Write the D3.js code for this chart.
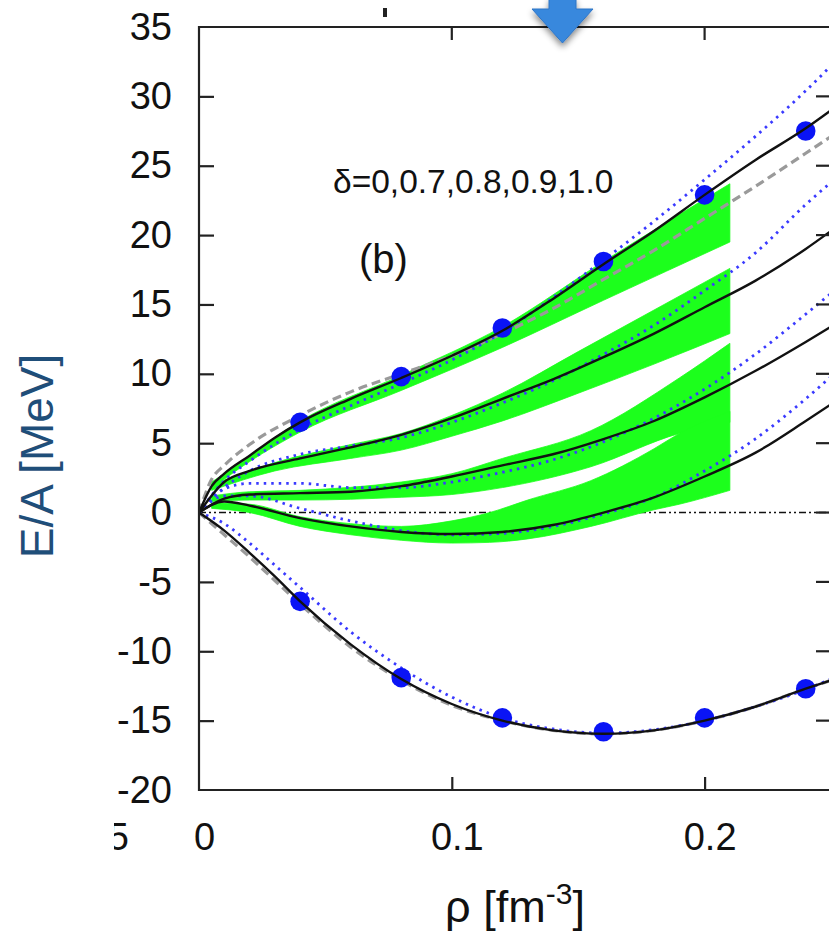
<!DOCTYPE html>
<html>
<head>
<meta charset="utf-8">
<script src="https://cdn.jsdelivr.net/npm/d3@7"></script>
<style>
  body { margin: 0; background: #fff; }
  svg { display: block; font-family: "Liberation Sans", Arial, sans-serif; }
</style>
</head>
<body>
<svg id="chart" width="829" height="937"></svg>
<script>
// tick values
const yTicks = [-20, -15, -10, -5, 0, 5, 10, 15, 20, 25, 30, 35];
const xTicks = [0, 0.1, 0.2];

// blue points (delta = 0 and delta = 1)
const dotsD0 = [[0.04,-6.4],[0.08,-11.9],[0.12,-14.8],[0.16,-15.8],[0.20,-14.8],[0.24,-12.7]];
const dotsD1 = [[0.04,6.5],[0.08,9.8],[0.12,13.3],[0.16,18.1],[0.20,22.9],[0.24,27.5]];

// black solid curves
const blackD0 = [[0,0],[0.01,-1.3],[0.02,-2.9],[0.03,-4.6],[0.04,-6.4],[0.06,-9.5],[0.08,-12.0],[0.10,-13.8],[0.12,-15.0],[0.14,-15.7],[0.16,-15.95],[0.18,-15.7],[0.20,-15.0],[0.22,-14.0],[0.24,-12.7],[0.25,-12.1]];
const blackD07 = [[0,0],[0.01,0.8],[0.02,0.5],[0.04,-0.4],[0.06,-1.0],[0.08,-1.4],[0.10,-1.55],[0.12,-1.4],[0.14,-0.9],[0.16,0.0],[0.18,1.1],[0.20,2.6],[0.22,4.3],[0.24,6.6],[0.25,7.8]];
const blackD08 = [[0,0],[0.01,1.0],[0.02,1.3],[0.04,1.4],[0.06,1.5],[0.08,1.9],[0.10,2.6],[0.12,3.4],[0.14,4.2],[0.16,5.3],[0.18,6.6],[0.20,8.3],[0.22,10.2],[0.24,12.3],[0.25,13.4]];
const blackD09 = [[0,0],[0.01,2.2],[0.02,3.0],[0.04,3.9],[0.06,4.7],[0.08,5.6],[0.10,6.8],[0.12,8.2],[0.14,9.6],[0.16,11.2],[0.18,12.9],[0.20,14.8],[0.22,16.7],[0.24,19.0],[0.25,20.3]];
const blackD10 = [[0,0],[0.005,1.9],[0.01,2.8],[0.02,4.1],[0.03,5.4],[0.04,6.5],[0.06,8.2],[0.08,9.7],[0.10,11.3],[0.12,13.1],[0.14,15.4],[0.16,17.9],[0.18,20.3],[0.20,22.9],[0.22,25.4],[0.24,27.7],[0.25,29.0]];

// blue dotted curves
const blueD0 = [[0,0],[0.01,-0.8],[0.02,-2.2],[0.03,-3.8],[0.04,-5.4],[0.06,-8.6],[0.08,-11.2],[0.10,-13.3],[0.12,-14.8],[0.14,-15.6],[0.16,-15.9],[0.18,-15.65],[0.20,-15.0],[0.22,-14.0],[0.24,-12.75],[0.25,-12.0]];
const blueD07 = [[0,0],[0.01,1.2],[0.02,1.2],[0.04,0.3],[0.06,-0.6],[0.08,-1.3],[0.10,-1.6],[0.12,-1.5],[0.14,-1.0],[0.16,-0.1],[0.18,1.1],[0.20,3.0],[0.22,5.3],[0.24,8.2],[0.25,9.8]];
const blueD08 = [[0,0],[0.01,1.7],[0.02,2.1],[0.04,2.1],[0.06,1.8],[0.08,1.8],[0.10,2.2],[0.12,2.9],[0.14,3.8],[0.16,5.1],[0.18,6.8],[0.20,8.9],[0.22,11.4],[0.24,14.3],[0.25,15.8]];
const blueD09 = [[0,0],[0.01,1.8],[0.02,3.0],[0.04,4.2],[0.06,4.8],[0.08,5.4],[0.10,6.5],[0.12,7.9],[0.14,9.5],[0.16,11.4],[0.18,13.5],[0.20,16.0],[0.22,18.7],[0.24,22.2],[0.25,23.8]];
const blueD10 = [[0,0],[0.01,2.3],[0.02,3.7],[0.04,6.0],[0.06,7.7],[0.08,9.3],[0.10,11.0],[0.12,13.0],[0.14,15.5],[0.16,18.2],[0.18,21.0],[0.20,24.0],[0.22,27.1],[0.24,30.4],[0.25,32.2]];

// gray dashed curves
const grayD0 = [[0,0],[0.01,-1.6],[0.02,-3.2],[0.03,-4.9],[0.04,-6.6],[0.06,-9.7],[0.08,-12.1],[0.10,-13.9],[0.12,-15.0],[0.14,-15.7],[0.16,-15.95],[0.18,-15.7],[0.20,-15.0],[0.22,-14.0],[0.24,-12.7],[0.25,-12.1]];
const grayD10 = [[0,0],[0.005,2.4],[0.01,3.4],[0.02,4.9],[0.04,7.0],[0.06,8.7],[0.08,10.0],[0.10,11.3],[0.12,12.9],[0.14,14.7],[0.16,16.8],[0.18,18.9],[0.20,21.2],[0.22,23.5],[0.24,25.9],[0.25,27.1]];

// green uncertainty bands: [rho, lower, upper]
const bandD07 = [[0.005,0.3,0.7],[0.02,0.0,0.6],[0.04,-1.0,-0.3],[0.06,-1.6,-0.8],[0.08,-2.0,-1.0],[0.10,-2.2,-0.6],[0.115,-2.15,0.0],[0.13,-1.9,0.9],[0.155,-1.0,2.3],[0.18,0.2,4.6],[0.19,0.6,5.7],[0.21,1.6,7.3]];
const bandD08 = [[0.005,0.8,1.2],[0.02,0.9,1.5],[0.04,0.9,1.6],[0.08,1.1,2.2],[0.10,1.3,2.8],[0.12,1.8,3.9],[0.155,3.3,5.9],[0.19,5.7,9.7],[0.21,6.5,12.2]];
const bandD09 = [[0.005,1.6,2.0],[0.03,3.0,3.6],[0.06,3.9,4.9],[0.08,4.5,5.7],[0.10,5.5,7.0],[0.12,6.6,8.6],[0.15,8.6,11.6],[0.18,10.7,14.6],[0.21,12.9,17.6]];
const bandD10 = [[0.005,1.7,2.2],[0.01,2.4,2.8],[0.04,5.8,6.6],[0.08,8.8,9.9],[0.12,11.9,13.4],[0.16,15.3,18.1],[0.21,19.5,23.7]];

const svg = d3.select('#chart');
const x = d3.scaleLinear().domain([0, 0.25]).range([199, 831]);
const y = d3.scaleLinear().domain([-20, 35]).range([790, 27]);

const defs = svg.append('defs');
defs.append('clipPath').attr('id','plot')
	.append('rect').attr('x',199).attr('y',27).attr('width',632).attr('height',763);
defs.append('clipPath').attr('id','leftcut')
	.append('rect').attr('x',114).attr('y',800).attr('width',40).attr('height',80);
const shadow = defs.append('filter').attr('id','shadow')
	.attr('x','-50%').attr('y','-50%').attr('width','200%').attr('height','200%');
shadow.append('feDropShadow').attr('dx',0).attr('dy',4).attr('stdDeviation',3)
	.attr('flood-color','#000').attr('flood-opacity',0.45);

const plot = svg.append('g').attr('clip-path','url(#plot)');

const line = d3.line().x(d=>x(d[0])).y(d=>y(d[1])).curve(d3.curveMonotoneX);
const area = d3.area().x(d=>x(d[0])).y0(d=>y(d[1])).y1(d=>y(d[2])).curve(d3.curveMonotoneX);

//zero line, dash-dot
plot.append('line')
	.attr('x1',x(0)).attr('x2',x(0.25))
	.attr('y1',y(0)).attr('y2',y(0))
	.style('stroke','#111').style('stroke-width',1.6)
	.style('stroke-dasharray','7,3,2,3,2,3');

plot.selectAll('.band')
	.data([bandD10, bandD09, bandD08, bandD07])
	.enter()
	.append('path').attr('class','band')
	.attr('d',area)
	.style('fill','#1cff1c')
	.style('stroke','#1cff1c').style('stroke-width',0.8);

plot.selectAll('.gray')
	.data([grayD0, grayD10])
	.enter()
	.append('path').attr('class','gray')
	.attr('d',line)
	.style('fill','none')
	.style('stroke','#9a9a9a').style('stroke-width',3.2)
	.style('stroke-dasharray','9,5');

plot.selectAll('.blue')
	.data([blueD0, blueD07, blueD08, blueD09, blueD10])
	.enter()
	.append('path').attr('class','blue')
	.attr('d',line)
	.style('fill','none')
	.style('stroke','#3a3aff').style('stroke-width',2.8)
	.style('stroke-dasharray','2.5,5');

plot.selectAll('.dot')
	.data(dotsD0.concat(dotsD1))
	.enter()
	.append('circle').attr('class','dot')
	.attr('cx',d=>x(d[0])).attr('cy',d=>y(d[1]))
	.attr('r',9.8)
	.style('fill','#0a14f5');

plot.selectAll('.black')
	.data([blackD0, blackD07, blackD08, blackD09, blackD10])
	.enter()
	.append('path').attr('class','black')
	.attr('d',line)
	.style('fill','none')
	.style('stroke','#111').style('stroke-width',2.4);

//frame and ticks
const frame = svg.append('g').style('stroke','#222').style('stroke-width',2.2).style('fill','none');
frame.append('path')
	.attr('d',`M${x(0.25)},${y(35)}H${x(0)}V${y(-20)}H${x(0.25)}`);
frame.selectAll('.rtick')
	.data(yTicks.slice(1,-1))
	.enter()
	.append('line').attr('class','rtick')
	.attr('x1',x(0.25)-15).attr('x2',x(0.25))
	.attr('y1',d=>y(d)).attr('y2',d=>y(d));
frame.selectAll('.ttick')
	.data(xTicks.slice(1))
	.enter()
	.append('line').attr('class','ttick')
	.attr('x1',d=>x(d)).attr('x2',d=>x(d))
	.attr('y1',y(35)).attr('y2',y(35)+13);

const yAxis = svg.append('g')
	.attr('transform',`translate(${x(0)},0)`)
	.call(d3.axisLeft(y).tickValues(yTicks).tickSize(-15).tickSizeOuter(0).tickPadding(27).tickFormat(d=>String(d)));
const xAxis = svg.append('g')
	.attr('transform',`translate(0,${y(-20)})`)
	.call(d3.axisBottom(x).tickValues(xTicks).tickSize(-13).tickSizeOuter(0).tickPadding(33).tickFormat(d=>String(d)));
[yAxis, xAxis].forEach(a=>{
	a.select('.domain').remove();
	a.selectAll('line').style('stroke','#222').style('stroke-width',2.2);
	a.selectAll('line').filter(d=>d===0||d===-20||d===35).remove();
	a.selectAll('text')
		.style('font-family','"Liberation Sans", Arial, sans-serif')
		.style('font-size','38px')
		.style('fill','#111');
});
xAxis.selectAll('text').attr('x',5);

//cut off label of the neighbouring panel
svg.append('text')
	.attr('clip-path','url(#leftcut)')
	.attr('x',129).attr('y',850)
	.attr('text-anchor','end')
	.style('font-size','38px').style('fill','#111')
	.text('0.15');

//axis titles
svg.append('text')
	.attr('transform','translate(53,456) rotate(-90)')
	.attr('text-anchor','middle')
	.style('font-size','46px')
	.style('fill','#1f4e79')
	.text('E/A [MeV]');
const xl = svg.append('text')
	.attr('x',515).attr('y',922)
	.attr('text-anchor','middle')
	.style('font-size','45px')
	.style('fill','#111');
xl.append('tspan').text('ρ [fm');
xl.append('tspan').attr('dy',-18).style('font-size','30px').text('-3');
xl.append('tspan').attr('dy',18).text(']');

//annotations
svg.append('text')
	.attr('x',333).attr('y',193)
	.style('font-size','33.5px').style('fill','#111')
	.text('δ=0,0.7,0.8,0.9,1.0');
svg.append('text')
	.attr('x',359).attr('y',273)
	.style('font-size','40px').style('fill','#111')
	.text('(b)');

//small mark at top, cut off from above
svg.append('rect')
	.attr('x',383).attr('y',8).attr('width',4).attr('height',9)
	.style('fill','#222');

//blue pointer arrow
svg.append('path')
	.attr('d','M549,-2H576V9H593L562.5,43L532,9H549Z')
	.attr('filter','url(#shadow)')
	.style('fill','#3988dd')
	.style('stroke','#2f74c4').style('stroke-width',1);
</script>
</body>
</html>
